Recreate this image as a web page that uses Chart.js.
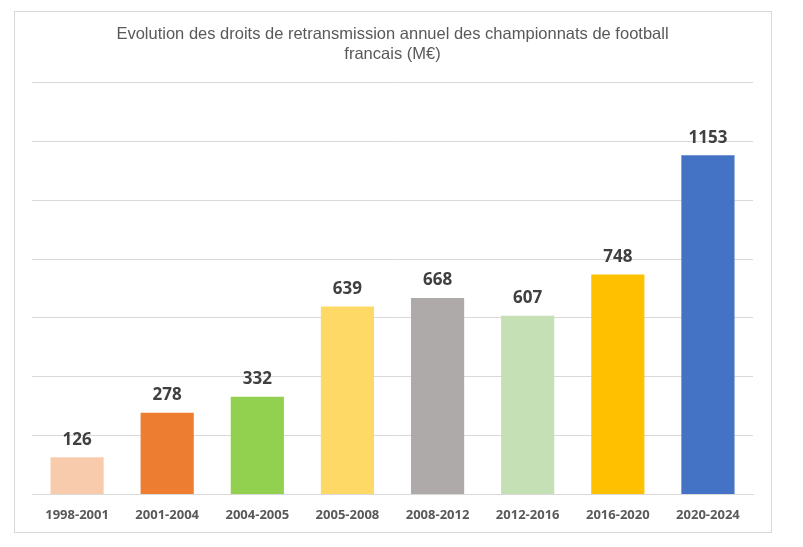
<!DOCTYPE html>
<html>
<head>
<meta charset="utf-8">
<script src="https://cdn.jsdelivr.net/npm/chart.js@4"></script>
<style>
  html, body { margin: 0; padding: 0; background: #fff; }
  #wrap { width: 803px; height: 547px; position: relative; }
</style>
</head>
<body>
<div id="wrap"><canvas id="droitsChart"></canvas></div>
<script>
const periodes = ['1998-2001', '2001-2004', '2004-2005', '2005-2008', '2008-2012', '2012-2016', '2016-2020', '2020-2024'];
const droits = [126, 278, 332, 639, 668, 607, 748, 1153];
const couleurs = ['#F8CBAD', '#ED7D31', '#92D050', '#FFD966', '#AEAAAA', '#C5E0B4', '#FFC000', '#4472C4'];
const titre = ['Evolution des droits de retransmission annuel des championnats de football', 'francais (M€)'];

// cadre gris autour du graphique
const cadre = {
    id: 'cadre',
    beforeDraw(chart) {
        const c = chart.ctx;
        c.save();
        c.strokeStyle = '#d9d9d9';
        c.lineWidth = 1;
        c.strokeRect(14.5, 11.5, 757, 521);
        c.restore();
    }
};

// valeurs au-dessus des barres
const valeurs = {
    id: 'valeurs',
    afterDatasetsDraw(chart) {
        const c = chart.ctx;
        const meta = chart.getDatasetMeta(0);
        c.save();
        c.font = 'bold 17px "Open Sans"';
        c.fillStyle = '#404040';
        c.textAlign = 'center';
        c.textBaseline = 'bottom';
        meta.data.forEach((bar, i) => {
            c.fillText(droits[i], bar.x, bar.y - 9);
        });
        c.restore();
    }
};

const ctx = document.getElementById('droitsChart');

const myChart = new Chart(ctx, {
    type: 'bar',
    data: {
        labels: periodes,
        datasets: [{
            data: droits,
            backgroundColor: couleurs,
            borderWidth: 0,
            barPercentage: 0.59,
            categoryPercentage: 1
        }]
    },
    options: {
        responsive: true,
        maintainAspectRatio: false,
        animation: false,
        layout: {
            padding: { left: 32, right: 50, top: 25, bottom: 11 }
        },
        plugins: {
            legend: { display: false },
            tooltip: { enabled: false },
            title: {
                display: true,
                text: titre,
                color: '#595959',
                font: { family: '"Liberation Sans", Arial', size: 16.5, weight: 'normal', lineHeight: 1.2 },
                padding: { top: 0, bottom: 18 }
            }
        },
        scales: {
            x: {
                grid: { display: false, drawTicks: false },
                border: { color: '#d9d9d9' },
                ticks: {
                    color: '#595959',
                    font: { family: '"Open Sans"', size: 13, weight: 'bold' },
                    padding: 13
                }
            },
            y: {
                min: 0,
                max: 1400,
                ticks: { display: false, stepSize: 200 },
                grid: { color: '#d9d9d9', drawTicks: false },
                border: { display: false }
            }
        }
    },
    plugins: [cadre, valeurs]
});
</script>
</body>
</html>
